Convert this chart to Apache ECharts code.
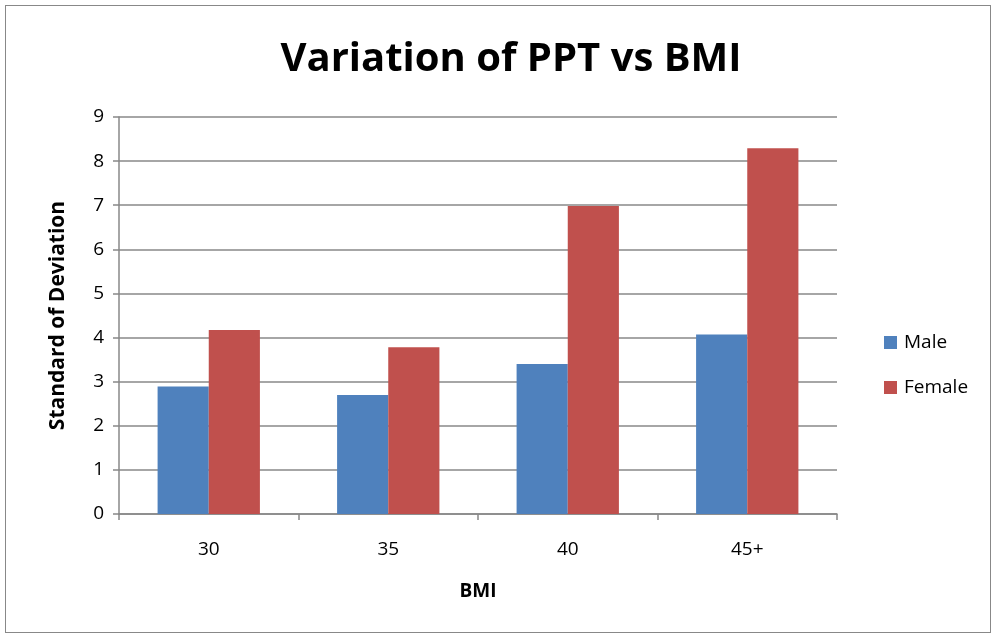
<!DOCTYPE html>
<html>
<head>
<meta charset="utf-8">
<script src="https://cdn.jsdelivr.net/npm/echarts@6/dist/echarts.min.js"></script>
<style>
html,body{margin:0;padding:0;background:#fff;}
#frame{position:absolute;left:5px;top:5px;width:986px;height:628px;border:1.5px solid #888;box-sizing:border-box;}
#chart{position:absolute;left:0;top:0;width:999px;height:637px;}
</style>
</head>
<body>
<div id="frame"></div>
<div id="chart"></div>
<script>
const categories = ['30', '35', '40', '45+'];
const maleValues = [2.89, 2.70, 3.40, 4.07];
const femaleValues = [4.17, 3.78, 6.98, 8.29];
const yTicks = [0, 1, 2, 3, 4, 5, 6, 7, 8, 9];

const FONT = '"Open Sans", sans-serif';
const chart = echarts.init(document.getElementById('chart'), null, {renderer: 'canvas'});
chart.setOption({
  animation: false,
  backgroundColor: 'transparent',
  title: {
    text: 'Variation of PPT vs BMI',
    left: 506, top: 35, textAlign: 'center',
    textStyle: {fontFamily: FONT, fontWeight: 'bold', fontSize: 40, color: '#000'}
  },
  legend: {
    orient: 'vertical',
    left: 879, top: 328,
    itemWidth: 13, itemHeight: 13, itemGap: 26,
    icon: 'rect',
    textStyle: {fontFamily: FONT, fontSize: 19, color: '#000', padding: [0,0,0,2]},
    data: ['Male', 'Female']
  },
  grid: {left: 119, right: 162, top: 117, bottom: 123, containLabel: false},
  xAxis: {
    type: 'category',
    data: categories,
    name: 'BMI',
    nameLocation: 'middle',
    nameGap: 68,
    nameTextStyle: {fontFamily: FONT, fontWeight: 'bold', fontSize: 19, color: '#000'},
    axisLine: {lineStyle: {color: '#888', width: 1.5}},
    axisTick: {show: true, length: 6, lineStyle: {color: '#888', width: 1.5}, alignWithLabel: false},
    axisLabel: {fontFamily: FONT, fontSize: 19, color: '#000', margin: 26}
  },
  yAxis: {
    type: 'value',
    min: yTicks[0], max: yTicks[yTicks.length - 1], interval: 1,
    name: 'Standard of Deviation',
    nameLocation: 'middle',
    nameGap: 50,
    nameTextStyle: {fontFamily: FONT, fontWeight: 'bold', fontSize: 21, color: '#000'},
    axisLine: {show: true, lineStyle: {color: '#888', width: 1.5}},
    axisTick: {show: true, length: 6, inside: false, lineStyle: {color: '#888', width: 1.5}},
    axisLabel: {fontFamily: FONT, fontSize: 19, color: '#000', margin: 15},
    splitLine: {show: true, lineStyle: {color: '#888', width: 1.5}}
  },
  series: [
    {name: 'Male', type: 'bar', data: maleValues, barGap: '0%', barCategoryGap: '43%',
     itemStyle: {color: '#4F81BD'}},
    {name: 'Female', type: 'bar', data: femaleValues, barGap: '0%', barCategoryGap: '43%',
     itemStyle: {color: '#C0504D'}}
  ]
});
</script>
</body>
</html>
